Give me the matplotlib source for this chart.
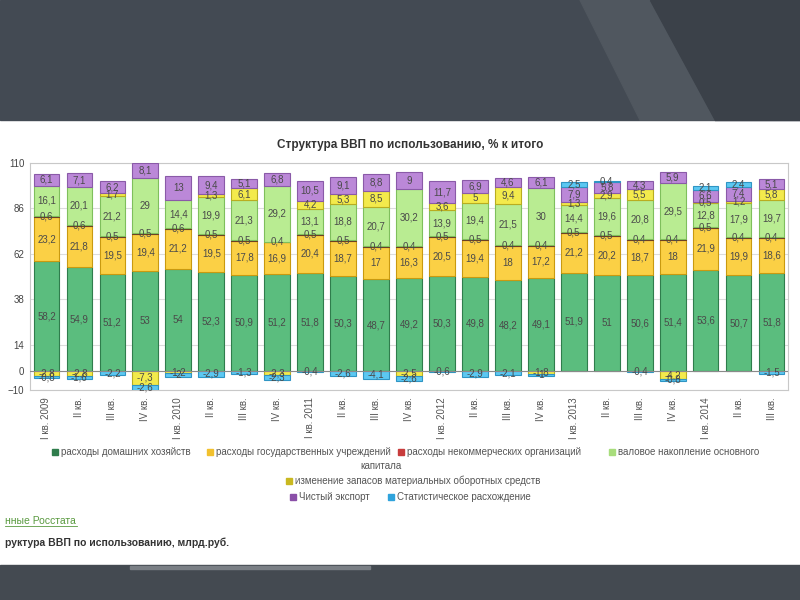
import numpy as np
import matplotlib
matplotlib.use("Agg")
import matplotlib.pyplot as plt
from matplotlib.patches import Rectangle, Polygon

plt.rcParams['font.family'] = ['Liberation Sans', 'DejaVu Sans']

# Кварталы
quarters = ["I кв. 2009", "II кв.", "III кв.", "IV кв.",
            "I кв. 2010", "II кв.", "III кв.", "IV кв.",
            "I кв. 2011", "II кв.", "III кв.", "IV кв.",
            "I кв. 2012", "II кв.", "III кв.", "IV кв.",
            "I кв. 2013", "II кв.", "III кв.", "IV кв.",
            "I кв. 2014", "II кв.", "III кв."]

# Структура ВВП, % к итогу
households = [58.2, 54.9, 51.2, 53, 54, 52.3, 50.9, 51.2, 51.8, 50.3, 48.7, 49.2,
              50.3, 49.8, 48.2, 49.1, 51.9, 51, 50.6, 51.4, 53.6, 50.7, 51.8]
government = [23.2, 21.8, 19.5, 19.4, 21.2, 19.5, 17.8, 16.9, 20.4, 18.7, 17, 16.3,
              20.5, 19.4, 18, 17.2, 21.2, 20.2, 18.7, 18, 21.9, 19.9, 18.6]
nonprofit = [0.6, 0.6, 0.5, 0.5, 0.6, 0.5, 0.5, 0.4, 0.5, 0.5, 0.4, 0.4,
             0.5, 0.5, 0.4, 0.4, 0.5, 0.5, 0.4, 0.4, 0.5, 0.4, 0.4]
fixed_capital = [16.1, 20.1, 21.2, 29, 14.4, 19.9, 21.3, 29.2, 13.1, 18.8, 20.7, 30.2,
                 13.9, 19.4, 21.5, 30, 14.4, 19.6, 20.8, 29.5, 12.8, 17.9, 19.7]
inventories = [-2.8, -2.8, 1.7, -7.3, -1.2, 1.3, 6.1, -2.3, 4.2, 5.3, 8.5, -2.5,
               3.6, 5, 9.4, -1.8, 1.3, 2.9, 5.5, -4.2, 0.5, 1.2, 5.8]
net_export = [6.1, 7.1, 6.2, 8.1, 13, 9.4, 5.1, 6.8, 10.5, 9.1, 8.8, 9,
              11.7, 6.9, 4.6, 6.1, 7.9, 5.8, 4.3, 5.9, 6.6, 7.4, 5.1]
discrepancy = [-0.8, -1.6, -2.2, -2.6, -2, -2.9, -1.3, -2.3, -0.4, -2.6, -4.1, -2.6,
               -0.6, -2.9, -2.1, -1.0, 2.5, 0.4, -0.4, -0.8, 2.1, 2.4, -1.5]

series = [
    ("расходы домашних хозяйств", households, "#5bbd7e", "#2f7d4c"),
    ("расходы государственных учреждений", government, "#fbd045", "#c99a10"),
    ("расходы некоммерческих организаций", nonprofit, "#8a4a2a", "#6b3a20"),
    ("валовое накопление основного\nкапитала", fixed_capital, "#b9ec92", "#7fbf5c"),
    ("изменение запасов материальных оборотных средств", inventories, "#f3ea4c", "#b9ad20"),
    ("Чистый экспорт", net_export, "#bb88d8", "#8a5aa8"),
    ("Статистическое расхождение", discrepancy, "#5cc8f2", "#2f95c4"),
]
legend_colors = ["#2f7d4c", "#f2c12e", "#c83c3c", "#a8dd7c", "#c9b820", "#8a4fa8", "#2fa3dc"]

fig = plt.figure(figsize=(8, 6), dpi=100)
W, H = 800, 600

def fx(px):
    return px / W

def fy(py):
    return 1 - py / H

# фон слайда
fig.patches.append(Rectangle((0, fy(120)), 1, 120 / H, transform=fig.transFigure,
                             color="#434a53", zorder=0))
fig.patches.append(Polygon([(fx(580), 1), (fx(650), 1), (fx(715), fy(120)), (fx(640), fy(120))],
                           closed=True, transform=fig.transFigure, color="#50575f", zorder=0))
fig.patches.append(Polygon([(fx(650), 1), (1, 1), (1, fy(120)), (fx(715), fy(120))],
                           closed=True, transform=fig.transFigure, color="#3b4149", zorder=0))
fig.patches.append(Rectangle((0, 0), 1, 35 / H, transform=fig.transFigure,
                             color="#444a51", zorder=0))
fig.patches.append(Rectangle((fx(130), fy(569)), fx(240), 3 / H, transform=fig.transFigure,
                             color="#7a7f85", zorder=0))

ax = fig.add_axes([fx(30), fy(390), fx(758), (390 - 163) / H])
x = np.arange(len(quarters))
width = 0.78

pos_bottom = np.zeros(len(quarters))
neg_bottom = np.zeros(len(quarters))
for name, vals, col, edge in series:
    vals = np.array(vals, dtype=float)
    bottoms = np.where(vals >= 0, pos_bottom, neg_bottom)
    ax.bar(x, vals, width, bottom=bottoms, color=col, edgecolor=edge, linewidth=0.8, zorder=3)
    for i, v in enumerate(vals):
        if v == 0:
            continue
        lab = f"{v:g}".replace(".", ",")
        ax.text(x[i], bottoms[i] + v / 2, lab, ha="center", va="center",
                fontsize=7, color="#4a4a4a", zorder=5)
    pos_bottom += np.where(vals >= 0, vals, 0)
    neg_bottom += np.where(vals < 0, vals, 0)

ax.axhline(0, color="#8a8a8a", linewidth=0.8, zorder=4)
ax.set_xlim(-0.5, len(quarters) - 0.5)
ax.set_ylim(-10, 110)
ax.set_yticks([-10, 0, 14, 38, 62, 86, 110])
ax.tick_params(axis="y", length=0, labelsize=7, labelcolor="#444", pad=4)
ax.set_xticks(x)
ax.set_xticklabels(quarters, rotation=90, fontsize=7, color="#555")
ax.tick_params(axis="x", length=0, pad=5)
ax.grid(axis="y", color="#dcdcdc", linewidth=0.8, zorder=0)
for s in ax.spines.values():
    s.set_color("#c8c8c8")

fig.text(0.5125, fy(145), "Структура ВВП по использованию, % к итого", ha="center", va="center",
         fontsize=8.5, fontweight="bold", color="#333")

# легенда
legend_pos = [(55, 452), (210, 452), (401, 452), (612, 452), (289, 481), (293, 497), (391, 497)]
for (name, vals, col, edge), lc, (lx, ly) in zip(series, legend_colors, legend_pos):
    fig.patches.append(Rectangle((fx(lx - 3), fy(ly + 3)), 6 / W, 6 / H, transform=fig.transFigure,
                                 color=lc, zorder=2))
    first, *rest = name.split("\n")
    fig.text(fx(lx + 6), fy(ly), first, ha="left", va="center", fontsize=7, color="#555")
    if rest:
        fig.text(fx(381), fy(466), rest[0], ha="center", va="center", fontsize=7, color="#555")

fig.text(fx(5), fy(521), "нные Росстата", ha="left", va="center", fontsize=7.5,
         color="#5a9a40")
fig.lines.append(plt.Line2D([fx(5), fx(77)], [fy(526), fy(526)], transform=fig.transFigure,
                            color="#5a9a40", linewidth=0.6))
fig.text(fx(5), fy(543), "руктура ВВП по использованию, млрд.руб.", ha="left", va="center",
         fontsize=7.5, fontweight="bold", color="#333")

fig.savefig("out.png", dpi=100, facecolor="white")
